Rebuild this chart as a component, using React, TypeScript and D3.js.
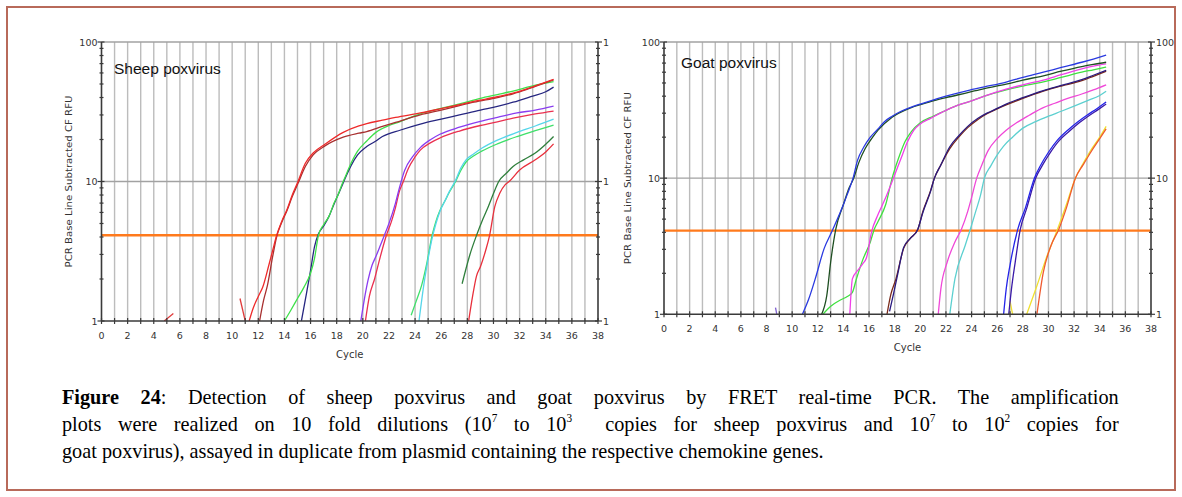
import React, { useLayoutEffect, useRef, useState } from 'react';
import * as d3 from 'd3';

type Pt = [number, number];

// ---------- Sheep poxvirus (cycle, RFU) ----------
const sheepFrag1: Pt[] = [[4.8, 1.0], [5.5, 1.13]];
const sheepFrag2: Pt[] = [[10.6, 1.45], [11.0, 1.0]];
const sheepG1a: Pt[] = [[11.3, 1], [11.6, 1.23], [12, 1.5], [12.35, 1.76], [12.8, 2.5], [13.1, 3.2], [13.4, 4.1], [13.8, 5.2], [14.2, 6.3], [14.6, 8], [15, 9.8], [15.6, 13.5], [16.2, 16], [17.1, 18.5], [18.5, 22.5], [19.7, 25], [20.3, 26], [21.5, 27.5], [22.5, 28.8], [24.4, 31], [26, 33.3], [27.4, 35.5], [28.5, 37.5], [30.3, 40.5], [31.5, 43], [32.5, 46], [33.2, 48.5], [34.6, 54]];
const sheepG1b: Pt[] = [[12.1, 1], [12.4, 1.4], [12.7, 1.8], [13.1, 2.9], [13.4, 4.0], [13.8, 5.1], [14.2, 6.2], [14.6, 7.8], [15, 9.5], [15.6, 12.8], [16.2, 15.5], [17.1, 18], [18.5, 20.8], [19.7, 22.2], [20.3, 22.8], [21.5, 24.8], [22.5, 26.5], [24.4, 30], [26, 32.5], [27.4, 35], [28.5, 37], [30.3, 40], [31.5, 42.5], [32.5, 45.5], [33.2, 48], [34.6, 53.5]];
const sheepG2green: Pt[] = [[14, 1], [14.5, 1.2], [15, 1.45], [15.5, 1.75], [16, 2.2], [16.3, 2.8], [16.6, 4.1], [17, 4.9], [17.4, 5.6], [17.8, 7], [18.1, 8.0], [18.4, 9.5], [18.6, 10.5], [19.1, 13.5], [19.6, 16.5], [20.3, 19.5], [21, 22.5], [21.5, 24], [22.9, 27], [24.4, 30.5], [26, 33.5], [27.4, 36], [29, 39.5], [30.3, 42], [31.5, 44.5], [33, 48.5], [34.6, 52]];
const sheepG2navy: Pt[] = [[15.3, 1], [15.7, 1.6], [16.0, 2.3], [16.3, 3.4], [16.6, 4.2], [17, 4.8], [17.4, 5.6], [17.8, 6.9], [18.1, 8.0], [18.4, 9.3], [18.6, 10.3], [19.1, 13], [19.6, 15.5], [20.3, 17.8], [21, 19.5], [21.5, 21], [22.9, 23.4], [24.4, 25.8], [26, 28], [27.4, 30], [29, 32.5], [30.3, 34.5], [31.5, 37], [33, 41], [34, 44], [34.6, 47.5]];
const sheepG3purple: Pt[] = [[19.85, 1], [20.1, 1.4], [20.4, 1.96], [20.7, 2.5], [21.0, 2.9], [21.3, 3.4], [21.6, 4.0], [22, 5.0], [22.5, 7.0], [22.8, 9.0], [23.2, 12], [23.8, 15], [24.4, 17.5], [25.2, 20], [25.9, 21.8], [27.4, 24.5], [29, 27], [30.3, 28.8], [31.8, 31], [33.2, 32.5], [34.6, 34.7]];
const sheepG3red: Pt[] = [[20.2, 1], [20.5, 1.5], [20.9, 2.0], [21.3, 2.8], [21.8, 4.1], [22.2, 5.2], [22.5, 6.5], [22.8, 8.5], [23.1, 10], [23.5, 12.5], [24, 15], [24.4, 16.8], [25.2, 19], [25.9, 20.5], [27.4, 23], [29, 25.2], [30.3, 26.8], [31.8, 28.8], [33.2, 30.5], [34.6, 32]];
const sheepG4green: Pt[] = [[23.7, 1.1], [24.1, 1.4], [24.5, 1.8], [24.9, 2.6], [25.3, 4.1], [25.6, 5.2], [25.9, 6.2], [26.3, 7.3], [26.6, 8.3], [27.1, 10], [27.5, 12], [27.9, 13.8], [28.5, 15.3], [29.1, 16.5], [30.3, 18.6], [31.8, 21], [33.2, 23.2], [34.6, 25.4]];
const sheepG4cyan: Pt[] = [[24.3, 1], [24.7, 1.9], [25.0, 2.8], [25.3, 3.9], [25.6, 5.0], [25.9, 6.1], [26.3, 7.3], [26.6, 8.4], [27.1, 10.2], [27.5, 12.5], [27.9, 14.3], [28.5, 15.8], [29.1, 17.3], [30.3, 19.8], [31.8, 22.5], [33.2, 25], [34.6, 28]];
const sheepG5green: Pt[] = [[27.6, 1.85], [28.2, 3.0], [28.7, 4.1], [29.2, 5.4], [29.6, 6.6], [30, 8.2], [30.4, 10], [31, 11.5], [31.5, 12.8], [32.3, 14.3], [33.2, 16], [34, 18.5], [34.6, 21]];
const sheepG5red: Pt[] = [[28.1, 1], [28.4, 1.5], [28.7, 2.1], [29.0, 2.45], [29.4, 3.2], [29.7, 4.1], [30.1, 6.6], [30.5, 8.3], [30.9, 9.5], [31.2, 10], [32, 12.1], [33.2, 14.3], [34, 16.3], [34.6, 18.6]];

// ---------- Goat poxvirus (cycle, RFU) ----------
const goatFrag: Pt[] = [[8.7, 1.12], [8.8, 1.0]];
const goatG1blue: Pt[] = [[10.8, 1], [11.3, 1.3], [11.8, 1.82], [12.5, 3.05], [13.1, 4.06], [13.9, 6.05], [14.3, 7.6], [14.75, 10], [15.1, 13.5], [15.6, 17], [16.1, 20], [16.7, 23], [17.2, 26], [17.8, 28.5], [18.5, 31], [19.3, 33.3], [20, 35], [20.8, 37], [22, 40], [23.7, 44], [25, 46.8], [26.7, 50.8], [28, 55], [29.6, 60], [31, 65], [32.6, 71], [33.5, 75], [34.5, 80]];
const goatG1dark: Pt[] = [[12.3, 1], [12.7, 1.37], [13.0, 2.4], [13.4, 4.2], [14, 6.4], [14.4, 8.3], [14.8, 10], [15.2, 13], [15.7, 16.5], [16.2, 19.5], [16.7, 22.5], [17.8, 28], [19.3, 33], [20.8, 36.5], [22, 39], [23.7, 42.5], [25, 45.5], [26.7, 49], [28, 52.5], [29.6, 56.5], [31, 61], [32.6, 66], [33.5, 68.5], [34.5, 71]];
const goatG2green: Pt[] = [[12.4, 1], [12.8, 1.1], [13.3, 1.2], [13.8, 1.28], [14.3, 1.35], [14.7, 1.45], [15.0, 1.8], [15.5, 2.5], [16.1, 3.4], [16.4, 4.2], [16.7, 4.8], [17.3, 6.4], [17.8, 10], [18.3, 14], [18.8, 18.5], [19.3, 22], [20, 25.5], [21, 28.5], [22, 31.5], [23, 34.5], [24, 37], [25, 40], [26.7, 44.5], [28, 47.5], [29.6, 51], [31, 55], [32.6, 60], [33.5, 62.5], [34.5, 65.5]];
const goatG2magenta: Pt[] = [[14.5, 1], [14.7, 1.82], [15.2, 2.15], [15.5, 2.35], [15.8, 2.6], [16.2, 4.05], [16.7, 5.4], [17.3, 7.2], [17.9, 10], [18.5, 14], [19, 18.5], [19.5, 22.5], [20, 25], [20.8, 27.5], [22, 31.5], [23, 34.5], [24, 37], [25, 40], [26.7, 45], [28, 48.5], [29.6, 52.5], [31, 57.5], [32.6, 63.5], [33.5, 66.5], [34.5, 69]];
const goatG3navy: Pt[] = [[17.6, 1.05], [17.9, 1.4], [18.2, 1.9], [18.7, 3.1], [19.2, 3.6], [19.8, 4.2], [20.2, 5.6], [20.8, 8], [21.1, 10], [21.6, 12.5], [22.3, 17], [23, 20.5], [23.7, 24], [24.5, 27.5], [25.2, 30], [26, 32.5], [26.7, 35], [28, 39], [29.6, 44], [31, 48], [32.6, 53], [33.5, 57], [34.5, 62]];
const goatG3brown: Pt[] = [[17.4, 1], [17.7, 1.4], [18.1, 1.82], [18.7, 3.05], [19.2, 3.6], [19.8, 4.2], [20.2, 5.7], [20.8, 8.1], [21.1, 10], [21.6, 12.5], [22.3, 16.5], [23, 20], [23.7, 23.5], [24.5, 27], [25.2, 29.7], [26, 32.3], [26.7, 34.5], [28, 38.5], [29.6, 43.5], [31, 47.5], [32.6, 52], [33.5, 56], [34.5, 61]];
const goatG4magenta: Pt[] = [[21.4, 1], [21.6, 1.53], [22.1, 2.42], [22.7, 3.4], [23.2, 4.2], [23.7, 5.7], [24.0, 7.2], [24.4, 10], [24.8, 12.5], [25.3, 16], [26, 19.5], [26.7, 22.5], [27.5, 25.5], [28.5, 29], [29.6, 33], [30.5, 35.5], [31.5, 38.5], [32.6, 41.5], [33.5, 44.5], [34.5, 48.5]];
const goatG4cyan: Pt[] = [[22.3, 1], [22.7, 1.82], [23.5, 3.2], [23.9, 4.2], [24.3, 5.6], [24.7, 7.5], [25.0, 10], [25.5, 12.3], [26, 14.8], [26.5, 17.2], [27.2, 20], [28, 23.3], [29, 26], [30, 28.5], [31, 31], [32, 33.8], [33, 37], [34, 40.5], [34.5, 43.5]];
const goatG5blue: Pt[] = [[26.5, 1], [26.7, 1.53], [27.0, 2.3], [27.6, 4.2], [28.2, 6.05], [28.9, 10], [29.4, 12.5], [30, 15.5], [30.7, 19], [31.5, 22.5], [32.3, 26], [33, 29], [33.8, 32.5], [34.5, 36.3]];
const goatG5navy: Pt[] = [[26.9, 1], [27.1, 1.5], [27.4, 2.4], [27.8, 4.2], [28.3, 6], [29.0, 10], [29.5, 12.3], [30.1, 15.2], [30.8, 18.7], [31.6, 22], [32.4, 25.5], [33.1, 28.5], [33.9, 32], [34.5, 35]];
const goatG6frag: Pt[] = [[27.0, 1.25], [27.2, 1.0]];
const goatG6yellow: Pt[] = [[28.3, 1], [29.1, 1.62], [29.9, 2.7], [30.7, 4.2], [31.4, 6.4], [32.1, 10], [32.7, 12.8], [33.3, 16], [34, 20], [34.5, 24]];
const goatG6orange: Pt[] = [[29.1, 1], [29.6, 2.04], [30.2, 3.2], [30.8, 4.2], [31.4, 6.05], [32.1, 10], [32.7, 12.5], [33.3, 15.5], [34, 19.5], [34.5, 23]];

// ---------- axes ----------
const cycleDomain: [number, number] = [0, 38];
const cycleTicks = d3.range(0, 39, 2);
const cycleGrid = d3.range(1, 38, 1);
const rfuDomain: [number, number] = [1, 100];
const rfuMajor = [1, 10, 100];
const rfuMinor = [2, 3, 4, 5, 6, 7, 8, 9, 20, 30, 40, 50, 60, 70, 80, 90];
const threshold = 4.12;
const sheepRightLabels = ['1', '1', '1'];
const goatRightLabels = ['1', '10', '100'];

// ---------- caption ----------
const captionLine1Bold = 'Figure 24';
const captionLine1 = ': Detection of sheep poxvirus and goat poxvirus by FRET real-time PCR. The amplification';
const captionLine2 = ['plots were realized on 10 fold dilutions (10', '7', ' to 10', '3', '\u00a0 copies for sheep poxvirus and 10', '7', ' to 10', '2', ' copies for'];
const captionLine3 = 'goat poxvirus), assayed in duplicate from plasmid containing the respective chemokine genes.';

const sheepCurves = [
  { d: sheepFrag1, c: '#e03a3a' },
  { d: sheepFrag2, c: '#e03a3a' },
  { d: sheepG5red, c: '#e8303c' },
  { d: sheepG5green, c: '#2f7f3c' },
  { d: sheepG4green, c: '#3ee06a' },
  { d: sheepG4cyan, c: '#56d6ea' },
  { d: sheepG3red, c: '#ea3050' },
  { d: sheepG3purple, c: '#8a3cf0' },
  { d: sheepG2navy, c: '#262680' },
  { d: sheepG2green, c: '#3ee04a' },
  { d: sheepG1b, c: '#a83030' },
  { d: sheepG1a, c: '#ee2a2a' },
];
const goatCurves = [
  { d: goatFrag, c: '#8060d0' },
  { d: goatG6frag, c: '#f0e030' },
  { d: goatG6yellow, c: '#f0e030' },
  { d: goatG6orange, c: '#f05a30' },
  { d: goatG5navy, c: '#3a1aa8' },
  { d: goatG5blue, c: '#2424e8' },
  { d: goatG4cyan, c: '#5cd0d0' },
  { d: goatG4magenta, c: '#f048d8' },
  { d: goatG3brown, c: '#7a2a1a' },
  { d: goatG3navy, c: '#2a1a80' },
  { d: goatG2green, c: '#40e040' },
  { d: goatG2magenta, c: '#f040e8' },
  { d: goatG1dark, c: '#1f4f22' },
  { d: goatG1blue, c: '#2a3ae0' },
];

type PanelProps = {
  id: string;
  left: number; right: number; top: number; bottom: number;
  title: string; titleX: number; titleY: number;
  yTitleX: number;
  curves: { d: Pt[]; c: string }[];
  rightLabels: string[];
};

const axisColor = '#3a3a3a';
const tickFont = '"DejaVu Sans", Verdana, sans-serif';

function Panel(p: PanelProps) {
  const x = d3.scaleLinear().domain(cycleDomain).range([p.left, p.right]);
  const y = d3.scaleLog().domain(rfuDomain).range([p.bottom, p.top]);
  const line = d3.line<Pt>().x((d) => x(d[0])).y((d) => y(d[1])).curve(d3.curveMonotoneX);
  const midY = (p.top + p.bottom) / 2;
  return (
    <g>
      <defs>
        <clipPath id={`clip-${p.id}`}>
          <rect x={p.left} y={p.top} width={p.right - p.left} height={p.bottom - p.top} />
        </clipPath>
      </defs>
      {cycleGrid.map((c) => (
        <line key={`g${c}`} x1={x(c)} x2={x(c)} y1={p.top} y2={p.bottom} stroke="#bcbcbc" strokeWidth={1.4} />
      ))}
      {[10, 100].map((v) => (
        <line key={`h${v}`} x1={p.left} x2={p.right} y1={y(v)} y2={y(v)} stroke="#a2a2a2" strokeWidth={1.4} />
      ))}
      <line x1={p.left} x2={p.right} y1={y(threshold)} y2={y(threshold)} stroke="#ff7a1c" strokeWidth={2.4} />
      <g clipPath={`url(#clip-${p.id})`}>
        {p.curves.map((cv, i) => (
          <path key={i} d={line(cv.d) || ''} fill="none" stroke={cv.c} strokeWidth={1.3} />
        ))}
      </g>
      <line x1={p.left} x2={p.left} y1={p.top} y2={p.bottom} stroke={axisColor} strokeWidth={1.6} />
      <line x1={p.right} x2={p.right} y1={p.top} y2={p.bottom} stroke={axisColor} strokeWidth={1.6} />
      <line x1={p.left} x2={p.right} y1={p.bottom} y2={p.bottom} stroke={axisColor} strokeWidth={1.6} />
      {rfuMajor.map((v) => (
        <g key={`M${v}`}>
          <line x1={p.left - 4} x2={p.left + 3} y1={y(v)} y2={y(v)} stroke={axisColor} strokeWidth={1.2} />
          <line x1={p.right - 3} x2={p.right + 4} y1={y(v)} y2={y(v)} stroke={axisColor} strokeWidth={1.2} />
          <text x={p.left - 4} y={y(v) + 3.5} textAnchor="end" fontSize={9.5} fontFamily={tickFont} fill="#333">{v}</text>
        </g>
      ))}
      {rfuMajor.map((v, i) => (
        <text key={`R${v}`} x={p.right + 5} y={y(v) + 3.5} textAnchor="start" fontSize={9.5} fontFamily={tickFont} fill="#333">{p.rightLabels[i]}</text>
      ))}
      {rfuMinor.map((v) => (
        <g key={`m${v}`}>
          <line x1={p.left - 2} x2={p.left + 2} y1={y(v)} y2={y(v)} stroke={axisColor} strokeWidth={1.2} />
          <line x1={p.right - 2} x2={p.right + 2} y1={y(v)} y2={y(v)} stroke={axisColor} strokeWidth={1.2} />
        </g>
      ))}
      {d3.range(0, 39, 1).map((c) => (
        <line key={`xt${c}`} x1={x(c)} x2={x(c)} y1={p.bottom - 3} y2={p.bottom + 3} stroke={axisColor} strokeWidth={1.2} />
      ))}
      {cycleTicks.map((c) => (
        <text key={`xl${c}`} x={x(c)} y={p.bottom + 18} textAnchor="middle" fontSize={9.5} fontFamily={tickFont} fill="#333">{c}</text>
      ))}
      <text x={(p.left + p.right) / 2} y={p.bottom + 37} textAnchor="middle" fontSize={10} fontFamily={tickFont} fill="#333">Cycle</text>
      <text transform={`translate(${p.yTitleX},${midY}) rotate(-90)`} textAnchor="middle" fontSize={9.5} fontFamily={tickFont} fill="#333" textLength={172} lengthAdjust="spacingAndGlyphs">PCR Base Line Subtracted CF RFU</text>
      <text x={p.titleX} y={p.titleY} fontSize={15.5} fontFamily='"Liberation Sans", Arial, sans-serif' fill="#111">{p.title}</text>
    </g>
  );
}

const countSpaces = (s: string) => (s.match(/[ \u00a0]/g) || []).length;

export default function App() {
  const serif = '"Liberation Serif", "Times New Roman", serif';
  const r1 = useRef<SVGTextElement>(null);
  const r2 = useRef<SVGTextElement>(null);
  const r3 = useRef<SVGTextElement>(null);
  const [cap, setCap] = useState({ sx: 1, ws1: 0, ws2: 0 });
  const capLeft = 62;
  const fullWidth = 1057;
  const lastWidth = 762;

  useLayoutEffect(() => {
    if (!r1.current || !r2.current || !r3.current) return;
    const w1 = r1.current.getComputedTextLength();
    const w2 = r2.current.getComputedTextLength();
    const w3 = r3.current.getComputedTextLength();
    const sx = lastWidth / w3;
    const n1 = countSpaces(r1.current.textContent || '');
    const n2 = countSpaces(r2.current.textContent || '');
    const ws1 = (fullWidth / sx - w1) / Math.max(1, n1);
    const ws2 = (fullWidth / sx - w2) / Math.max(1, n2);
    setCap({ sx, ws1, ws2 });
  }, []);

  const capT = `translate(${capLeft},0) scale(${cap.sx},1)`;
  const fs = 21.5;
  return (
    <div style={{ position: 'absolute', left: 0, top: 0 }}>
      <svg width={1182} height={497} viewBox="0 0 1182 497" style={{ display: 'block', background: '#fff' }}>
        <rect x={7} y={7} width={1168} height={483} fill="#fff" stroke="#b86a5a" strokeWidth={2} />
        <Panel id="sheep" left={101.5} right={598} top={42} bottom={321} title="Sheep poxvirus" titleX={114} titleY={74} yTitleX={72} curves={sheepCurves} rightLabels={sheepRightLabels} />
        <Panel id="goat" left={664} right={1151} top={42} bottom={314.3} title="Goat poxvirus" titleX={681} titleY={68} yTitleX={631} curves={goatCurves} rightLabels={goatRightLabels} />
        <g transform={capT}>
          <text ref={r1} x={0} y={404} fontSize={fs} fontFamily={serif} fill="#000" wordSpacing={cap.ws1}>
            <tspan fontWeight="bold">{captionLine1Bold}</tspan>{captionLine1}
          </text>
          <text ref={r2} x={0} y={431} fontSize={fs} fontFamily={serif} fill="#000" wordSpacing={cap.ws2}>
            {captionLine2[0]}
            <tspan fontSize={12} dy={-9}>{captionLine2[1]}</tspan>
            <tspan dy={9}>{captionLine2[2]}</tspan>
            <tspan fontSize={12} dy={-9}>{captionLine2[3]}</tspan>
            <tspan dy={9}>{captionLine2[4]}</tspan>
            <tspan fontSize={12} dy={-9}>{captionLine2[5]}</tspan>
            <tspan dy={9}>{captionLine2[6]}</tspan>
            <tspan fontSize={12} dy={-9}>{captionLine2[7]}</tspan>
            <tspan dy={9}>{captionLine2[8]}</tspan>
          </text>
          <text ref={r3} x={0} y={458} fontSize={fs} fontFamily={serif} fill="#000">{captionLine3}</text>
        </g>
      </svg>
    </div>
  );
}
